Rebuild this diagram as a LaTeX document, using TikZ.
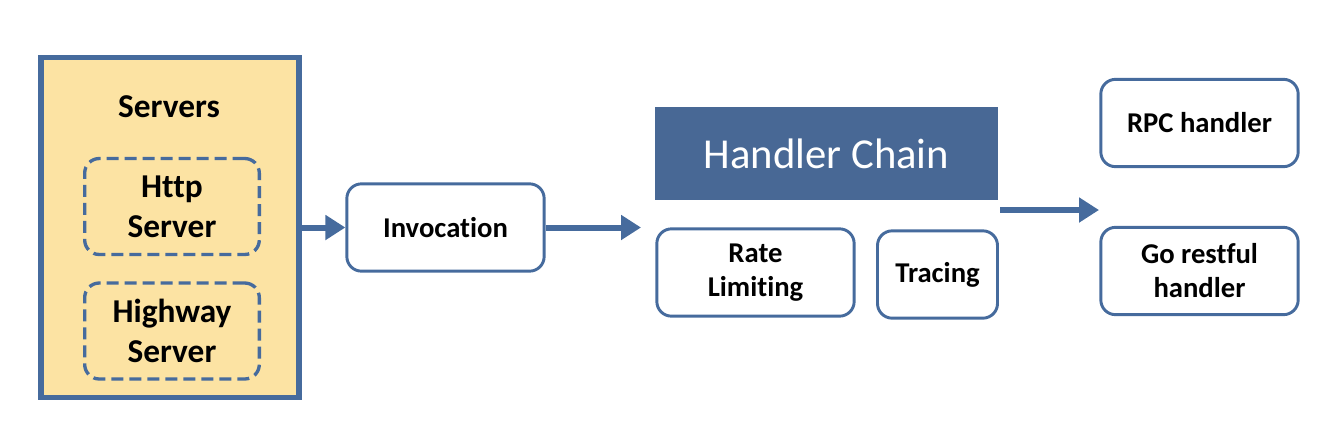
\documentclass[tikz,border=0pt]{standalone}
\usepackage{fontspec}
\setmainfont{Carlito}[Ligatures={NoCommon}]
\usetikzlibrary{arrows.meta}
\definecolor{edgeblue}{RGB}{70,107,157}
\definecolor{headblue}{RGB}{72,104,149}
\definecolor{sandfill}{RGB}{252,227,163}
\begin{document}
\begin{tikzpicture}[x=0.75pt,y=-0.75pt,
  outerbox/.style={draw=edgeblue,line width=4.3pt,fill=sandfill,minimum width=194pt,minimum height=255pt,inner sep=0pt},
  dashbox/.style={draw=edgeblue,line width=2.5pt,dash pattern=on 9pt off 4.5pt,rounded corners=11pt,minimum width=131pt,minimum height=72pt,align=center,font=\fontsize{25}{30}\selectfont\bfseries,inner sep=0pt},
  stepbox/.style={draw=edgeblue,line width=2.2pt,fill=white,rounded corners=11pt,minimum width=148pt,minimum height=65.5pt,align=center,font=\fontsize{21.5}{25.5}\selectfont\bfseries,inner sep=0pt},
  flow/.style={draw=edgeblue,line width=4.5pt,-{Triangle[length=15pt,width=18pt]}}]
\useasboundingbox (0,0) rectangle (1332,426);

\node[outerbox] (servers) at (170,227.5) {};
\node[font=\fontsize{25}{30}\selectfont\bfseries] (srvtitle) at (169,107) {Servers};
\node[dashbox] (http) at (172,206.5) {Http\\Server};
\node[dashbox] (highway) at (172,331) {Highway\\Server};

\node[stepbox] (invoke) at (445.5,227.5) {Invocation};

\node[fill=headblue,minimum width=257pt,minimum height=69.5pt,text=white,font=\fontsize{32}{38}\selectfont] (chain) at (826.5,153.5) {Handler Chain};
\node[stepbox] (rate) at (755.5,272.5) {Rate\\Limiting};
\node[stepbox,minimum width=90pt] (trace) at (937.5,274.5) {Tracing};

\node[stepbox] (rpc) at (1199.5,123) {RPC handler};
\node[stepbox] (gorest) at (1199.5,271) {Go restful\\handler};

\coordinate (chainin) at (641,227.5);
\coordinate (chainout) at (1000,210);
\coordinate (handlersin) at (1099,210);

\draw[flow] (servers.east |- invoke.west) -- (invoke.west);
\draw[flow] (invoke.east) -- (chainin);
\draw[flow] (chainout) -- (handlersin);
\end{tikzpicture}
\end{document}
